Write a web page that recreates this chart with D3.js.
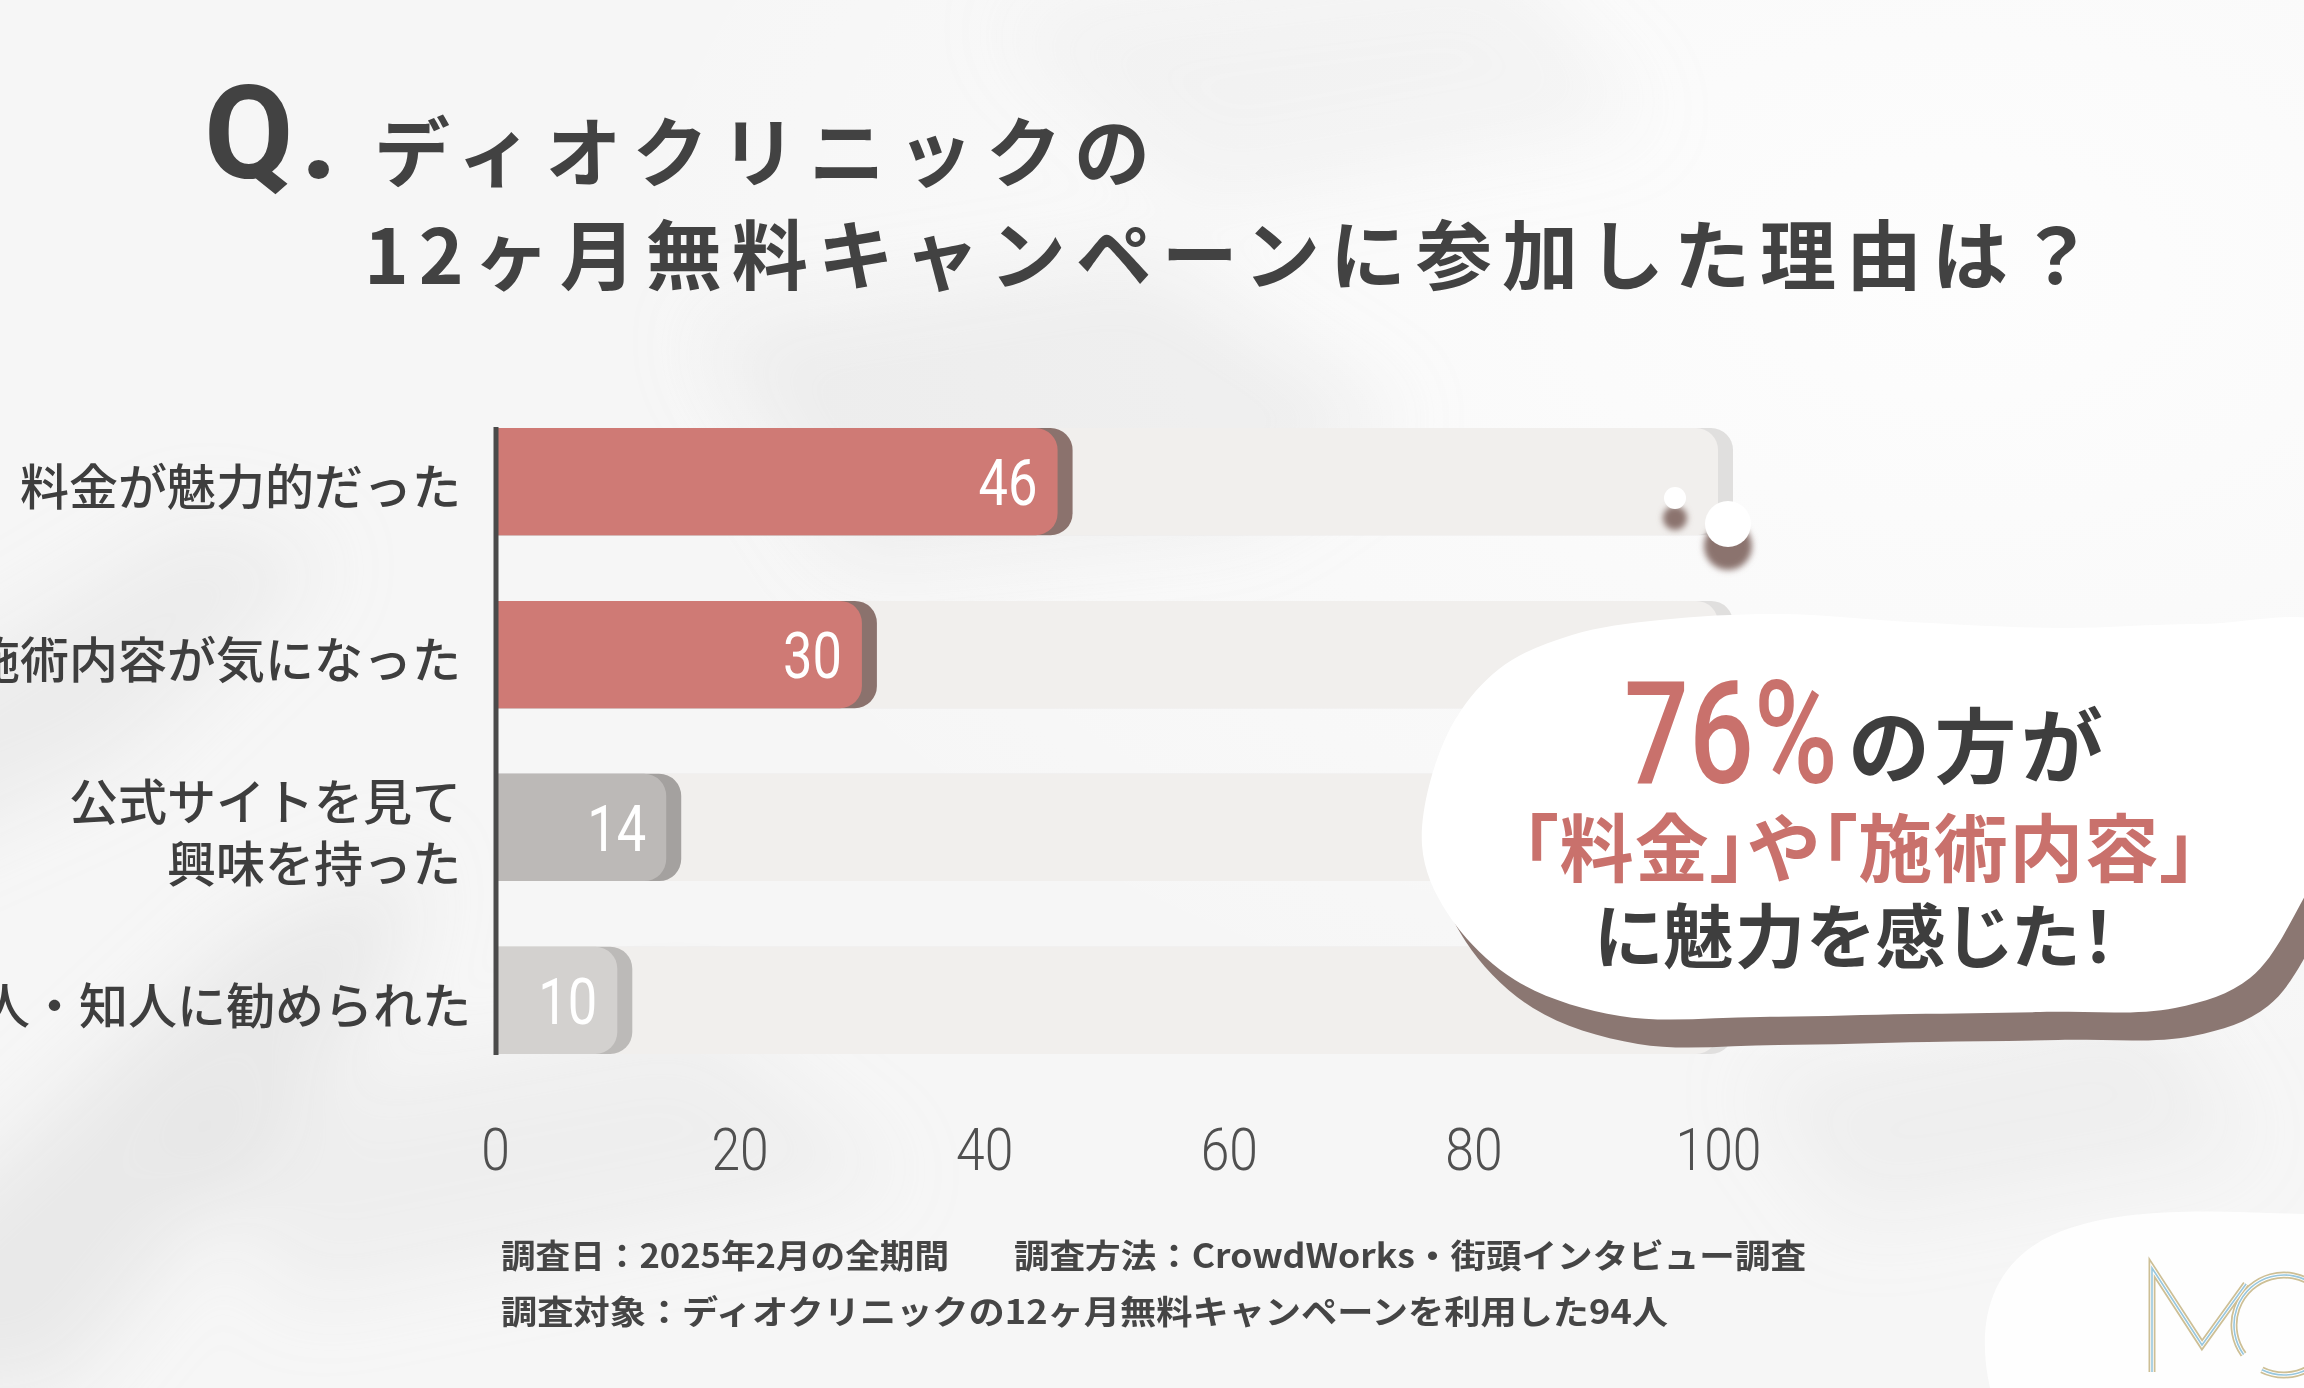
<!DOCTYPE html>
<html>
<head>
<meta charset="utf-8">
<script src="https://cdn.jsdelivr.net/npm/d3@7/dist/d3.min.js"></script>
<style>
  html, body { margin: 0; padding: 0; background: #f7f7f7; }
  svg { display: block; }
  .jp { font-family: "Noto Sans CJK JP", "Noto Sans", sans-serif; }
  .num { font-family: Roboto, "DejaVu Sans", sans-serif; }
</style>
</head>
<body>
<svg id="chart" width="2304" height="1388"></svg>
<script>
// ---------------- data ----------------
const categories = ["料金が魅力的だった", "施術内容が気になった", "公式サイトを見て\n興味を持った", "友人・知人に勧められた"];
const values = [46, 30, 14, 10];
const maxValue = 100;
const tickValues = [0, 20, 40, 60, 80, 100];
const titleQ = "Q.";
const titleLines = ["ディオクリニックの", "12ヶ月無料キャンペーンに参加した理由は？"];
const calloutPercent = "76%";
const calloutLine1 = "の方が";
const calloutLine2 = "「料金」や「施術内容」";
const calloutLine3 = "に魅力を感じた！";
const footnoteA = "調査日：2025年2月の全期間";
const footnoteB = "調査方法：CrowdWorks・街頭インタビュー調査";
const footnoteC = "調査対象：ディオクリニックの12ヶ月無料キャンペーンを利用した94人";

// ---------------- styles ----------------
const barFill = ["#cf7a75", "#cf7a75", "#bcb9b7", "#d3d1cf"];
const barShade = ["#8b726d", "#8b726d", "#a4a19f", "#bcbab8"];
const labelRight = [461, 461, 461, 471];
const dark = "#3e3e3e";
const red = "#c9716c";

const svg = d3.select("#chart");
const W = 2304, H = 1388;

// ---------------- background ----------------
const defs = svg.append("defs");
defs.append("filter").attr("id", "blurBig").attr("x", "-50%").attr("y", "-50%").attr("width", "200%").attr("height", "200%")
  .append("feGaussianBlur").attr("stdDeviation", 40);
defs.append("filter").attr("id", "blurSmall").attr("x", "-50%").attr("y", "-50%").attr("width", "200%").attr("height", "200%")
  .append("feGaussianBlur").attr("stdDeviation", 3);
const rg = defs.append("radialGradient").attr("id", "lightTR").attr("cx", "0.85").attr("cy", "0.2").attr("r", "0.6");
rg.append("stop").attr("offset", "0").attr("stop-color", "#fdfdfd");
rg.append("stop").attr("offset", "1").attr("stop-color", "#fdfdfd").attr("stop-opacity", 0);

svg.append("rect").attr("width", W).attr("height", H).attr("fill", "#f6f6f6");
svg.append("rect").attr("width", W).attr("height", H).attr("fill", "url(#lightTR)");

const shadowG = svg.append("g").attr("filter", "url(#blurBig)").attr("fill", "#d6d6d6");
shadowG.append("path").attr("d", "M-100,1250 L250,930 L420,860 L380,1000 L60,1388 L-100,1388 Z").attr("opacity", 0.4);
shadowG.append("path").attr("d", "M-100,700 L200,520 L330,560 L120,760 L-100,860 Z").attr("opacity", 0.3);
shadowG.append("path").attr("d", "M700,330 L1150,260 L1400,420 L1250,520 L850,560 Z").attr("opacity", 0.3);
shadowG.append("path").attr("d", "M1000,20 L1500,-40 L1650,120 L1200,200 Z").attr("opacity", 0.2);
shadowG.append("path").attr("d", "M150,1120 L700,1020 L900,1180 L300,1300 Z").attr("opacity", 0.25);
shadowG.append("path").attr("d", "M1750,1080 L2150,1000 L2250,1150 L1850,1220 Z").attr("opacity", 0.25);

// logo blob bottom-right
svg.append("path")
  .attr("d", "M1990,1388 C1975,1320 1990,1255 2070,1228 C2140,1205 2230,1212 2304,1214 L2304,1388 Z")
  .attr("fill", "#fefefe");

// ---------------- scales ----------------
const x = d3.scaleLinear().domain([0, maxValue]).range([495, 1718]);
const y = d3.scaleBand().domain(categories).range([428, 1054]).paddingInner(0.38).paddingOuter(0);
const bh = y.bandwidth();
const r = 22;
const shadeOff = 15;

function roundedRight(x0, y0, w, h, rad) {
  const rr = Math.min(rad, w / 2, h / 2);
  const p = d3.path();
  p.moveTo(x0, y0);
  p.lineTo(x0 + w - rr, y0);
  p.arcTo(x0 + w, y0, x0 + w, y0 + rr, rr);
  p.lineTo(x0 + w, y0 + h - rr);
  p.arcTo(x0 + w, y0 + h, x0 + w - rr, y0 + h, rr);
  p.lineTo(x0, y0 + h);
  p.closePath();
  return p.toString();
}

const rows = svg.append("g").selectAll("g.row").data(categories).join("g").attr("class", "row");

// track shadow + track
rows.append("path").attr("d", d => roundedRight(x(0), y(d), x(maxValue) - x(0) + shadeOff, bh, r)).attr("fill", "#e0dfde");
rows.append("path").attr("d", d => roundedRight(x(0), y(d), x(maxValue) - x(0), bh, r)).attr("fill", "#f1efed");
// bar shadow + bar
rows.append("path").attr("d", (d, i) => roundedRight(x(0), y(d), x(values[i]) - x(0) + shadeOff, bh, r)).attr("fill", (d, i) => barShade[i]);
rows.append("path").attr("d", (d, i) => roundedRight(x(0), y(d), x(values[i]) - x(0), bh, r)).attr("fill", (d, i) => barFill[i]);

// value labels
rows.append("g")
  .attr("transform", (d, i) => `translate(${x(values[i]) - 20},${y(d) + bh / 2 + 2}) scale(0.82,1)`)
  .append("text")
  .attr("class", "num")
  .attr("text-anchor", "end")
  .attr("dominant-baseline", "central")
  .attr("font-size", 64)
  .attr("font-weight", 400)
  .attr("fill", "#ffffff")
  .text((d, i) => values[i]);

// category labels
rows.append("text")
  .attr("class", "jp")
  .attr("text-anchor", "end")
  .attr("font-size", 49)
  .attr("font-weight", 500)
  .attr("fill", dark)
  .each(function (d, i) {
    const lines = d.split("\n");
    const cy = y(d) + bh / 2 + 2;
    const lh = 62;
    d3.select(this).selectAll("tspan").data(lines).join("tspan")
      .attr("x", labelRight[i])
      .attr("y", (l, j) => cy + (j - (lines.length - 1) / 2) * lh)
      .attr("dominant-baseline", "central")
      .text(l => l);
  });

// axis line
svg.append("line")
  .attr("x1", 496).attr("x2", 496)
  .attr("y1", y(categories[0]) - 1).attr("y2", y(categories[categories.length - 1]) + bh + 1)
  .attr("stroke", "#4a4a4a").attr("stroke-width", 5);

// x axis ticks
const axisG = svg.append("g").attr("transform", "translate(0,1150)")
  .call(d3.axisBottom(x).tickValues(tickValues).tickSize(0).tickPadding(0));
axisG.select(".domain").remove();
axisG.selectAll(".tick text").each(function (d) {
  const g = d3.select(this.parentNode);
  d3.select(this).remove();
  g.append("g").attr("transform", "scale(0.86,1)")
    .append("text")
    .attr("class", "num")
    .attr("x", 0).attr("y", 0)
    .attr("text-anchor", "middle")
    .attr("dominant-baseline", "central")
    .attr("font-size", 60)
    .attr("font-weight", 300)
    .attr("fill", "#505050")
    .text(d);
});

// ---------------- title ----------------
svg.append("text").attr("class", "num")
  .attr("x", 204).attr("y", 178)
  .attr("font-size", 130).attr("font-weight", 700).attr("fill", "#424242")
  .attr("textLength", 134).attr("lengthAdjust", "spacing")
  .text(titleQ);
svg.append("text").attr("class", "jp")
  .attr("x", 374).attr("y", 148).attr("dominant-baseline", "central")
  .attr("font-size", 76).attr("font-weight", 700).attr("fill", "#424242")
  .attr("textLength", 776).attr("lengthAdjust", "spacing")
  .text(titleLines[0]);
svg.append("text").attr("class", "jp")
  .attr("x", 364).attr("y", 251).attr("dominant-baseline", "central")
  .attr("font-size", 76).attr("font-weight", 700).attr("fill", "#424242")
  .attr("textLength", 1730).attr("lengthAdjust", "spacing")
  .text(titleLines[1]);

// ---------------- thought dots ----------------
const dots = svg.append("g");
dots.append("circle").attr("cx", 1675).attr("cy", 518).attr("r", 12).attr("fill", "#8b736e").attr("filter", "url(#blurSmall)");
dots.append("circle").attr("cx", 1675).attr("cy", 498).attr("r", 11).attr("fill", "#ffffff");
dots.append("circle").attr("cx", 1728).attr("cy", 546).attr("r", 24).attr("fill", "#8b736e").attr("filter", "url(#blurSmall)");
dots.append("circle").attr("cx", 1728).attr("cy", 524).attr("r", 23).attr("fill", "#ffffff");

// ---------------- callout bubble ----------------
const bubblePts = [
  [1422, 845], [1447, 735], [1499, 669], [1572, 635], [1660, 620], [1780, 614], [1910, 622],
  [2060, 628], [2200, 624], [2340, 630], [2345, 800], [2300, 905], [2250, 978], [2175, 1008],
  [2040, 1012], [1910, 1014], [1760, 1017], [1620, 1016], [1515, 980], [1448, 914]
];
const bubbleLine = d3.line().curve(d3.curveCatmullRomClosed.alpha(0.5));
svg.append("path").attr("d", bubbleLine(bubblePts)).attr("fill", "#8b7772")
  .attr("transform", "translate(18,28)");
svg.append("path").attr("d", bubbleLine(bubblePts)).attr("fill", "#ffffff");

svg.append("text").attr("class", "num")
  .attr("x", 1624).attr("y", 783)
  .attr("font-size", 142).attr("font-weight", 500).attr("fill", red)
  .attr("textLength", 214).attr("lengthAdjust", "spacingAndGlyphs")
  .text(calloutPercent);
svg.append("text").attr("class", "jp")
  .attr("x", 1848).attr("y", 777)
  .attr("font-size", 82).attr("font-weight", 700).attr("fill", dark)
  .attr("textLength", 255).attr("lengthAdjust", "spacing")
  .text(calloutLine1);
svg.append("text").attr("class", "jp")
  .attr("x", 1521).attr("y", 876)
  .attr("font-size", 74).attr("font-weight", 700).attr("fill", red)
  .style("font-feature-settings", "'palt'")
  .attr("textLength", 676).attr("lengthAdjust", "spacing")
  .text(calloutLine2);
svg.append("text").attr("class", "jp")
  .attr("x", 1594).attr("y", 963)
  .attr("font-size", 70).attr("font-weight", 700).attr("fill", dark)
  .style("font-feature-settings", "'palt'")
  .attr("textLength", 522).attr("lengthAdjust", "spacing")
  .text(calloutLine3);

// ---------------- footnotes ----------------
const fn = svg.append("g").attr("class", "jp").attr("font-size", 33).attr("font-weight", 700).attr("fill", "#454545");
fn.append("text").attr("x", 501).attr("y", 1268)
  .attr("textLength", 448).attr("lengthAdjust", "spacingAndGlyphs").text(footnoteA);
fn.append("text").attr("x", 1014).attr("y", 1268)
  .attr("textLength", 792).attr("lengthAdjust", "spacingAndGlyphs").text(footnoteB);
fn.append("text").attr("x", 501).attr("y", 1324)
  .attr("textLength", 1167).attr("lengthAdjust", "spacingAndGlyphs").text(footnoteC);

// ---------------- logo ----------------
const logo = svg.append("g").attr("fill", "none").attr("stroke-linejoin", "miter");
const mPath = "M2152,1372 L2152,1268 L2202,1345 L2246,1284";
[["#cdbf95", 7], ["#ffffff", 3.5], ["#98c7de", 1.6]].forEach(([c, w]) => {
  logo.append("path").attr("d", mPath).attr("stroke", c).attr("stroke-width", w);
  logo.append("path").attr("d", d3.arc()({innerRadius: 50, outerRadius: 50, startAngle: -2.2, endAngle: 3.6}))
    .attr("transform", "translate(2284,1325)").attr("stroke", c).attr("stroke-width", w);
});
</script>
</body>
</html>
